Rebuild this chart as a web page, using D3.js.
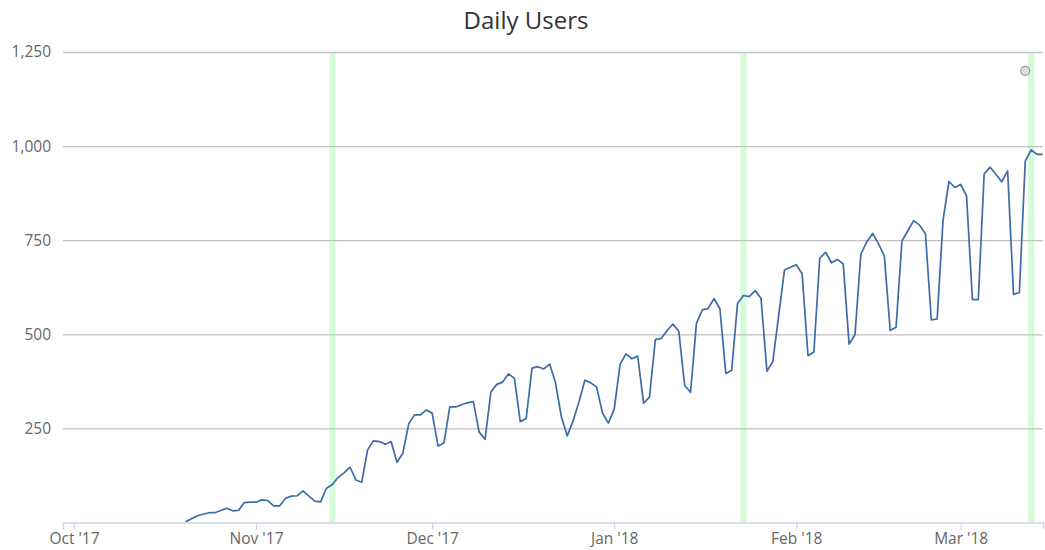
<!DOCTYPE html>
<html>
<head>
<meta charset="utf-8">
<script src="https://cdn.jsdelivr.net/npm/d3@7"></script>
<style>
  body { margin: 0; background: #fff; }
  svg { display: block; font-family: "Open Sans", "DejaVu Sans", sans-serif; }
</style>
</head>
<body>
<div id="chart"></div>
<script>
// daily values starting at firstDay
const firstDay = "2017-10-20";
const dailyUsers = [
  2, 10, 18, 22, 26, 26, 32, 38, 31, 32, 53, 54,
  54, 60, 58, 44, 44, 64, 70, 71, 84, 70, 57, 55, 91, 101, 120, 132, 147, 113,
  107, 193, 217, 215, 208, 215, 160, 184, 262, 286, 286, 299,
  290, 203, 211, 307, 307, 313, 318, 321, 240, 221, 347, 367, 373, 395, 383, 268,
  276, 410, 414, 408, 421, 371, 281, 230, 270, 321, 378, 371, 360, 291, 264,
  301, 420, 448, 435, 442, 317, 333, 486, 489, 510, 527, 508, 364, 346, 529,
  565, 569, 595, 568, 396, 404, 582, 603, 600, 616, 596, 402, 427, 549, 671, 678,
  685, 661, 443, 453, 702, 718, 690, 699, 687, 474, 499, 713, 745, 768, 741, 708,
  510, 519, 748, 775, 802, 790, 767, 538, 541, 804, 906, 890,
  898, 868, 592, 592, 926, 944, 925, 905, 934, 606, 611, 960, 990, 978, 978
];
const bandDays = ["2017-11-14", "2018-01-23", "2018-03-13"];
const markerDays = ["2018-03-12"];
const markerValues = [1200];
const yTicks = [250, 500, 750, 1000, 1250];
const monthTicks = ["2017-10-01", "2017-11-01", "2017-12-01", "2018-01-01", "2018-02-01", "2018-03-01"];

const width = 1045, height = 550;
const margin = { top: 52, right: 2, bottom: 27.5, left: 63 };
const parse = d3.utcParse("%Y-%m-%d");

const start = parse(firstDay);
const series = dailyUsers.map((v, i) => ({ date: d3.utcDay.offset(start, i), value: v }));

const x = d3.scaleUtc()
    .domain([new Date(Date.UTC(2017, 8, 29, 3)), new Date(Date.UTC(2018, 2, 15, 0, 30))])
    .range([margin.left, width - margin.right]);
const y = d3.scaleLinear()
    .domain([0, 1250])
    .range([height - margin.bottom, margin.top]);

const svg = d3.select("#chart").append("svg")
    .attr("width", width)
    .attr("height", height);

svg.append("text")
    .attr("x", 526)
    .attr("y", 29)
    .attr("text-anchor", "middle")
    .attr("fill", "#333333")
    .style("font-size", "24px")
    .text("Daily Users");

// green plot bands, one day wide
svg.append("g")
    .selectAll("rect")
    .data(bandDays.map(parse))
    .join("rect")
    .attr("x", d => x(d3.utcHour.offset(d, -12)))
    .attr("width", d => x(d3.utcHour.offset(d, 12)) - x(d3.utcHour.offset(d, -12)))
    .attr("y", margin.top)
    .attr("height", y(0) - margin.top)
    .attr("fill", "#d3fcd8");

// y grid + labels
const yAxis = svg.append("g")
    .attr("transform", `translate(${margin.left},0)`)
    .call(d3.axisLeft(y).tickValues(yTicks).tickSize(-(width - margin.left - margin.right)).tickFormat(d3.format(",")))
    .attr("font-family", null)
    .attr("font-size", null);
yAxis.select(".domain").remove();
yAxis.selectAll(".tick line").attr("stroke", "#c0c0c0").attr("stroke-width", 1.3);
yAxis.selectAll(".tick text")
    .attr("x", -12)
    .attr("fill", "#666666")
    .style("font-size", "15.5px");

// x axis
const xAxis = svg.append("g")
    .attr("transform", `translate(0,${y(0)})`)
    .call(d3.axisBottom(x).tickValues(monthTicks.map(parse)).tickSize(7).tickFormat(d3.utcFormat("%b '%y")))
    .attr("font-family", null)
    .attr("font-size", null);
xAxis.select(".domain").attr("stroke", "#ccd6eb").attr("stroke-width", 1.5);
xAxis.selectAll(".tick line").attr("stroke", "#ccd6eb").attr("stroke-width", 1.3);
xAxis.selectAll(".tick text")
    .attr("y", 10)
    .attr("fill", "#666666")
    .style("font-size", "15.5px");

const line = d3.line()
    .x(d => x(d.date))
    .y(d => y(d.value));

svg.append("path")
    .datum(series)
    .attr("fill", "none")
    .attr("stroke", "#3f6ba6")
    .attr("stroke-width", 1.7)
    .attr("stroke-linejoin", "round")
    .attr("d", line);

svg.append("g")
    .selectAll("circle")
    .data(markerDays.map((d, i) => ({ date: parse(d), value: markerValues[i] })))
    .join("circle")
    .attr("cx", d => x(d.date))
    .attr("cy", d => y(d.value))
    .attr("r", 4.5)
    .attr("fill", "#e0e0e0")
    .attr("stroke", "#999999")
    .attr("stroke-width", 1.2);
</script>
</body>
</html>
